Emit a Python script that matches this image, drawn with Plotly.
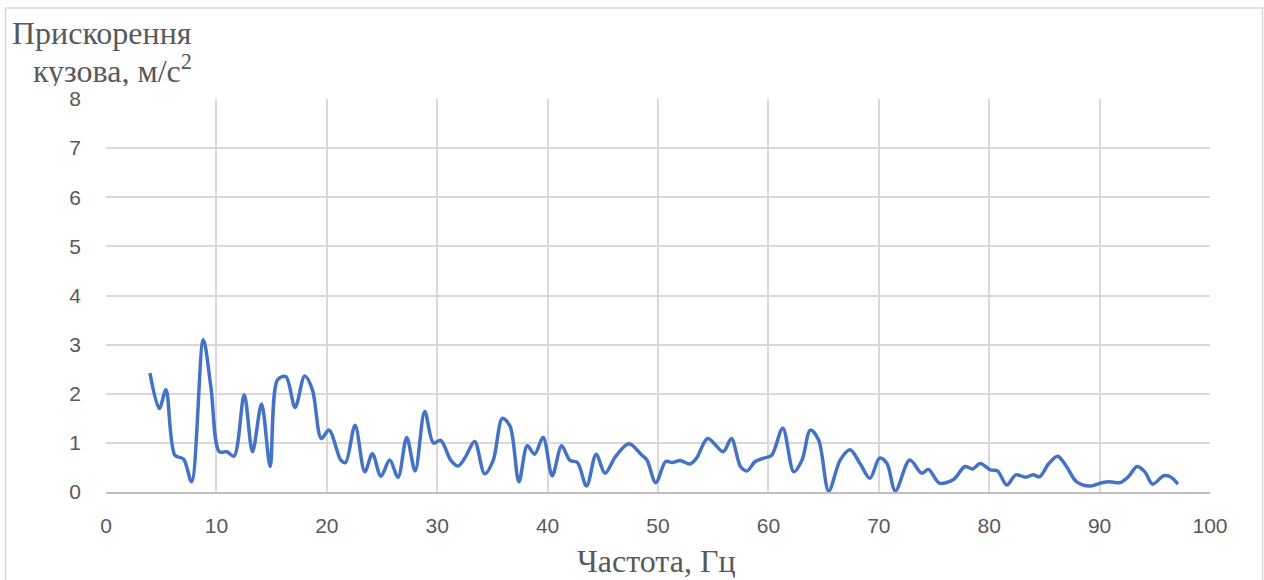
import plotly.graph_objects as go

freq = [3.98, 4.83, 5.43, 6.24, 7.03, 7.75, 8.81, 9.5, 10.26, 10.95, 11.6, 12.52, 13.27, 14.09,
        14.87, 15.53, 16.29, 17.13, 18.0, 18.7, 19.5, 20.2, 21.27, 21.7, 22.56, 23.44, 24.13,
        24.9, 25.7, 26.45, 27.24, 28.0, 28.87, 29.65, 30.32, 31.22, 31.9, 32.58, 33.39, 34.3,
        35.08, 35.9, 36.6, 37.4, 38.16, 38.82, 39.6, 40.42, 41.27, 42.0, 42.7, 43.53, 44.4,
        45.2, 46.15, 47.36, 48.5, 49.0, 49.8, 50.7, 51.3, 52.0, 52.9, 53.5, 54.5, 55.9, 56.65,
        57.47, 58.07, 58.8, 59.6, 60.3, 61.3, 62.3, 63.05, 63.8, 64.55, 65.46, 66.5, 67.4,
        68.3, 69.2, 70.07, 70.74, 71.5, 72.8, 73.9, 74.5, 75.5, 76.8, 77.8, 78.5, 79.2, 80.1,
        80.75, 81.6, 82.4, 83.3, 84.0, 84.55, 85.4, 86.2, 87.0, 87.9, 89.1, 90.2, 90.9, 91.85,
        92.6, 93.4, 94.1, 94.8, 95.8, 96.4, 97.1]
accel = [2.42, 1.70, 2.08, 0.75, 0.67, 0.21, 3.10, 2.14, 0.82, 0.82, 0.73, 1.98, 0.82, 1.79,
         0.52, 2.28, 2.35, 1.72, 2.36, 2.08, 1.09, 1.26, 0.65, 0.60, 1.36, 0.41, 0.78,
         0.32, 0.65, 0.30, 1.11, 0.43, 1.64, 1.00, 1.05, 0.65, 0.53, 0.72, 1.03, 0.37,
         0.65, 1.50, 1.34, 0.21, 0.94, 0.77, 1.11, 0.33, 0.94, 0.65, 0.60, 0.12, 0.77,
         0.38, 0.72, 0.98, 0.76, 0.65, 0.19, 0.62, 0.60, 0.64, 0.57, 0.69, 1.09, 0.82, 1.09,
         0.52, 0.43, 0.62, 0.69, 0.75, 1.30, 0.41, 0.65, 1.26, 1.06, 0.02, 0.65, 0.86,
         0.58, 0.28, 0.69, 0.58, 0.02, 0.65, 0.38, 0.46, 0.18, 0.26, 0.52, 0.47, 0.58, 0.45,
         0.43, 0.14, 0.35, 0.30, 0.35, 0.31, 0.58, 0.73, 0.52, 0.21, 0.12, 0.19, 0.21, 0.19,
         0.31, 0.52, 0.41, 0.16, 0.33, 0.31, 0.16]

x_ticks = list(range(0, 101, 10))
y_ticks = list(range(0, 9, 1))
y_title_line1 = "Прискорення"
y_title_line2 = "кузова, м/с<sup>2</sup>"
x_title = "Частота, Гц"

fig = go.Figure()
fig.add_trace(go.Scatter(x=freq, y=accel, mode="lines",
                         line=dict(color="#4472C4", width=3.5, shape="spline", smoothing=0.9),
                         hoverinfo="x+y"))

grid = "#d9d9d9"
tickfont = dict(family="Liberation Sans, Arial, sans-serif", size=21, color="#595959")
serif = dict(family="Liberation Serif, Times New Roman, serif", size=32, color="#595959")

fig.update_layout(
    width=1264, height=580,
    margin=dict(l=106, r=54, t=99, b=88),
    paper_bgcolor="white", plot_bgcolor="white",
    showlegend=False,
    xaxis=dict(range=[0, 100], tickvals=x_ticks, showgrid=True, gridcolor=grid, gridwidth=2,
               zeroline=False, showline=True, linecolor="#bfbfbf", linewidth=2,
               tickfont=tickfont, ticks="", ticklabelstandoff=14, fixedrange=True),
    yaxis=dict(range=[0, 8], tickvals=y_ticks, showgrid=True, gridcolor=grid, gridwidth=2,
               zeroline=False, showline=False,
               tickfont=tickfont, ticks="", ticklabelstandoff=24, fixedrange=True),
    annotations=[
        dict(text=y_title_line1, xref="paper", yref="paper", x=-0.0032, y=1.1677,
             xanchor="center", yanchor="middle", showarrow=False, font=serif, height=36),
        dict(text=y_title_line2, xref="paper", yref="paper", x=0.0059, y=1.076,
             xanchor="center", yanchor="middle", showarrow=False, font=serif, height=34),
        dict(text=x_title, xref="paper", yref="paper", x=0.499, y=-0.1766,
             xanchor="center", yanchor="middle", showarrow=False, font=serif),
    ],
    shapes=[
        dict(type="rect", xref="paper", yref="paper", x0=-0.091, x1=1.0476, y0=-0.3, y1=1.2316,
             line=dict(color="#d9d9d9", width=1.5), layer="below"),
    ],
)

fig.write_html("out.html")
